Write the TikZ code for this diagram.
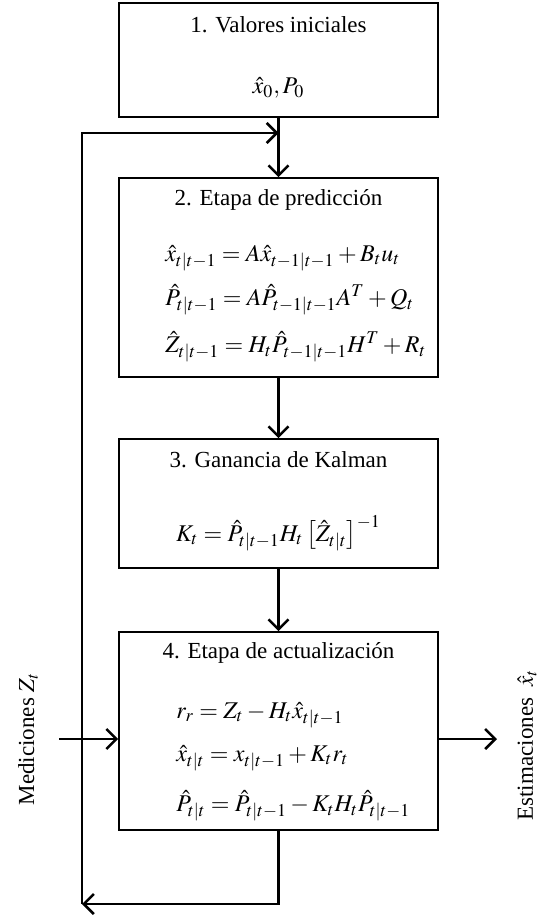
\documentclass[tikz,border=0pt]{standalone}
\usepackage{mathptmx}
\usepackage[no-math]{fontspec}
\setmainfont{Liberation Serif}
\usetikzlibrary{arrows.meta}

\begin{document}
\begin{tikzpicture}[x=0.5pt,y=-0.5pt,
        etapa/.style={draw, line width=0.8pt, minimum width=159.5pt, inner sep=0pt},
        titulo/.style={font=\fontsize{11.5}{13}\selectfont},
        ec/.style={anchor=west, inner sep=0pt, font=\fontsize{12}{14}\selectfont},
        flujo/.style={line width=1.3pt},
        >={Straight Barb[length=5pt,width=10pt]}
        ]
        \useasboundingbox (0,0) rectangle (540,915);

        % cajas
        \node[etapa, minimum height=57pt] (e1) at (278.5,60) {};
        \node[etapa, minimum height=99.5pt] (e2) at (278.5,277.5) {};
        \node[etapa, minimum height=64.5pt] (e3) at (278.5,503.5) {};
        \node[etapa, minimum height=99pt] (e4) at (278.5,731) {};

        \node[titulo] (t1) at (278.5,25) {1. Valores iniciales};
        \node[titulo] (t2) at (278.5,200) {2. Etapa de predicción};
        \node[titulo] (t3) at (278.5,460) {3. Ganancia de Kalman};
        \node[titulo] (t4) at (278.5,653) {4. Etapa de actualización};

        \node[ec, anchor=center] (x0) at (278.5,88) {$\hat{x}_0, P_0$};

        \foreach \y/\eq [count=\i] in {258/{\hat{x}_{t|t-1} = A\hat{x}_{t-1|t-1} + B_t u_t},
                                      300/{\hat{P}_{t|t-1} = A\hat{P}_{t-1|t-1}A^T + Q_t},
                                      347/{\hat{Z}_{t|t-1} = H_t\hat{P}_{t-1|t-1}H^T + R_t}}
          \node[ec] (p\i) at (165,\y) {$\eq$};

        \node[ec, anchor=center] (k) at (278.5,533) {$K_t = \hat{P}_{t|t-1}H_t\left[\hat{Z}_{t|t}\right]^{-1}$};

        \foreach \y/\eq [count=\i] in {715/{r_r = Z_t - H_t\hat{x}_{t|t-1}},
                                      758/{\hat{x}_{t|t} = x_{t|t-1} + K_t r_t},
                                      806/{\hat{P}_{t|t} = \hat{P}_{t|t-1} - K_t H_t\hat{P}_{t|t-1}}}
          \node[ec] (a\i) at (176,\y) {$\eq$};

        % flechas
        \coordinate (retorno) at (82,904);
        \coordinate (cima) at (82,133);
        \coordinate (entrada) at (59,739);
        \coordinate (salida) at (497,739);

        \draw[flujo,->] (e1.south) -- (e2.north);
        \draw[flujo,->] (e2.south) -- (e3.north);
        \draw[flujo,->] (e3.south) -- (e4.north);
        \draw[flujo,->] (e4.south) |- (retorno);
        \draw[flujo,->] (retorno) -- (cima) -- (cima -| e1.south);
        \draw[flujo,->] (entrada) -- (entrada -| e4.west);
        \draw[flujo,->] (salida -| e4.east) -- (salida);

        \node[titulo, rotate=90] (med) at (28,739) {Mediciones $Z_t$};
        \node[titulo, rotate=90] (est) at (527,745) {Estimaciones\ \ $\hat{x}_t$};
      \end{tikzpicture}
\end{document}
